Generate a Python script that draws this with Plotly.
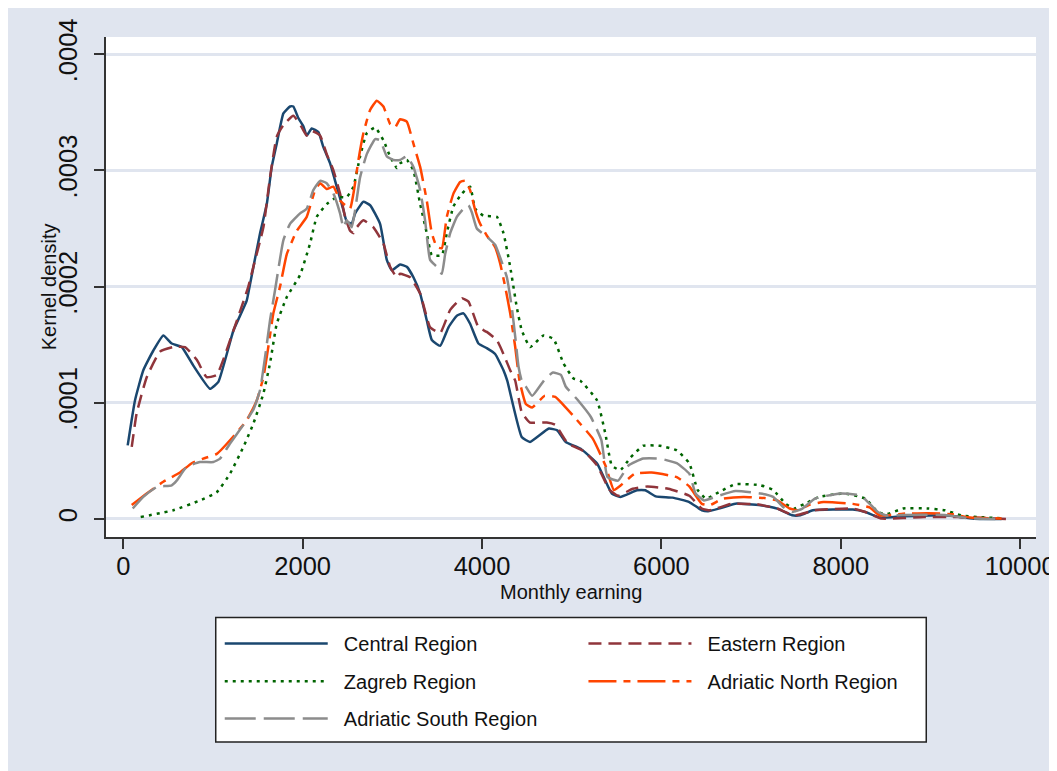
import plotly.graph_objects as go
import numpy as np

# Kernel density estimates (density values in units of 1e-4)
x_central = [49,130,223,335,446,540,651,781,967,1060,1227,1376,1413,1525,1600,1655,1711,1785,1859,1896,1952,2008,2045,2101,2175,2231,2306,2380,2454,2491,2547,2585,2677,2752,2863,2938,2994,3086,3161,3235,3310,3384,3440,3533,3626,3719,3793,3867,3960,4053,4146,4239,4281,4442,4535,4745,4839,4933,5096,5283,5447,5541,5727,5820,5937,6124,6311,6451,6521,6638,6826,7106,7292,7456,7549,7690,8134,8274,8437,8694,9161,9488,9793]
y_central = [0.634,1.02,1.28,1.45,1.58,1.51,1.48,1.32,1.12,1.18,1.62,1.88,2.02,2.46,2.71,3.03,3.23,3.49,3.55,3.55,3.45,3.38,3.30,3.36,3.33,3.20,3.06,2.86,2.66,2.56,2.54,2.63,2.73,2.70,2.54,2.23,2.14,2.19,2.17,2.08,1.94,1.71,1.54,1.49,1.65,1.75,1.77,1.68,1.51,1.47,1.42,1.28,1.19,0.706,0.663,0.778,0.763,0.663,0.606,0.477,0.219,0.189,0.247,0.247,0.195,0.184,0.146,0.075,0.066,0.089,0.132,0.118,0.089,0.032,0.032,0.075,0.081,0.06,0.012,0.023,0.032,0.003,0.0]

x_eastern = [94,149,261,409,558,688,819,930,1042,1227,1394,1450,1562,1636,1711,1785,1896,1990,2045,2101,2194,2268,2343,2417,2473,2529,2566,2603,2677,2789,2900,2975,3050,3086,3198,3310,3421,3533,3645,3775,3849,3960,4053,4165,4239,4314,4370,4442,4535,4722,4816,4956,5142,5283,5423,5517,5681,5844,6077,6311,6451,6544,6779,7059,7292,7479,7713,8134,8274,8461,8928,9300,9851]
y_eastern = [0.62,0.91,1.22,1.44,1.48,1.48,1.37,1.22,1.24,1.62,2.0,2.17,2.51,2.94,3.29,3.39,3.47,3.37,3.30,3.34,3.30,3.14,3.0,2.80,2.60,2.48,2.46,2.51,2.57,2.51,2.37,2.17,2.08,2.11,2.08,1.94,1.65,1.60,1.80,1.90,1.87,1.65,1.61,1.54,1.42,1.28,1.19,0.92,0.83,0.83,0.81,0.65,0.58,0.46,0.25,0.20,0.26,0.28,0.26,0.20,0.09,0.075,0.13,0.127,0.09,0.03,0.075,0.09,0.06,0.003,0.017,0.017,0.0]

x_zagreb = [194,558,855,1042,1190,1339,1450,1562,1636,1711,1823,1971,2082,2157,2268,2380,2491,2566,2640,2715,2808,2900,2975,3050,3086,3161,3235,3310,3384,3440,3552,3607,3681,3775,3867,3923,4016,4165,4239,4314,4388,4444,4537,4685,4797,4908,5020,5096,5283,5376,5447,5541,5657,5797,5983,6171,6311,6404,6498,6638,6826,7106,7246,7386,7479,7596,7760,8040,8274,8414,8508,8694,8975,9161,9349,9536,9816]
y_zagreb = [0.017,0.075,0.16,0.23,0.39,0.62,0.82,1.08,1.34,1.68,1.91,2.10,2.37,2.60,2.71,2.77,2.77,2.86,3.12,3.32,3.37,3.26,3.12,3.02,3.06,3.09,3.0,2.71,2.46,2.27,2.27,2.46,2.69,2.80,2.86,2.67,2.61,2.60,2.46,2.17,1.82,1.62,1.48,1.58,1.55,1.34,1.21,1.19,1.02,0.73,0.46,0.42,0.53,0.63,0.63,0.59,0.48,0.25,0.175,0.23,0.30,0.29,0.25,0.13,0.09,0.13,0.19,0.22,0.175,0.06,0.04,0.09,0.09,0.075,0.03,0.017,0.005]

x_adr_north = [94,261,446,632,763,892,1042,1227,1376,1488,1562,1617,1673,1748,1823,1934,2045,2138,2194,2268,2343,2417,2491,2529,2566,2622,2677,2752,2826,2900,2975,3031,3086,3161,3235,3310,3384,3440,3496,3552,3607,3681,3756,3811,3867,3923,3979,4053,4146,4202,4258,4314,4370,4418,4488,4559,4698,4816,4909,5049,5236,5376,5470,5563,5703,5891,6171,6311,6451,6544,6685,6918,7152,7292,7432,7526,7643,7806,8134,8321,8437,8694,8975,9255,9442,9793]
y_adr_north = [0.12,0.22,0.32,0.40,0.48,0.52,0.56,0.71,0.85,1.02,1.22,1.48,1.77,2.0,2.28,2.48,2.60,2.83,2.89,2.84,2.86,2.74,2.69,2.67,2.80,3.09,3.32,3.52,3.60,3.55,3.40,3.37,3.44,3.42,3.23,3.03,2.74,2.46,2.34,2.33,2.60,2.80,2.90,2.91,2.83,2.66,2.54,2.44,2.34,2.20,2.0,1.77,1.48,1.19,0.99,0.96,1.06,1.05,0.98,0.86,0.69,0.46,0.25,0.30,0.39,0.40,0.36,0.28,0.13,0.12,0.175,0.19,0.18,0.16,0.09,0.075,0.12,0.146,0.13,0.10,0.03,0.046,0.05,0.04,0.012,0.005]

x_adr_south = [105,223,372,540,595,707,855,1004,1079,1190,1339,1450,1525,1580,1636,1692,1785,1859,1971,2045,2119,2194,2268,2343,2417,2454,2491,2547,2585,2640,2715,2808,2863,2938,3012,3086,3161,3235,3310,3365,3421,3496,3552,3589,3645,3719,3793,3849,3886,3942,4053,4146,4202,4277,4332,4370,4407,4442,4488,4559,4698,4790,4880,4933,5072,5212,5330,5400,5517,5633,5797,5983,6171,6311,6381,6474,6638,6826,7106,7246,7362,7456,7573,7713,7993,8227,8414,8508,8694,9161,9442,9723]
y_adr_south = [0.09,0.19,0.275,0.29,0.33,0.45,0.49,0.49,0.52,0.65,0.81,0.94,1.11,1.39,1.71,1.97,2.40,2.54,2.63,2.67,2.83,2.91,2.89,2.80,2.63,2.51,2.57,2.51,2.66,2.94,3.14,3.27,3.26,3.12,3.09,3.09,3.12,3.03,2.83,2.57,2.23,2.17,2.11,2.28,2.46,2.60,2.67,2.70,2.64,2.50,2.43,2.36,2.25,2.08,1.82,1.57,1.31,1.19,1.14,1.06,1.20,1.26,1.24,1.14,1.02,0.88,0.68,0.36,0.33,0.46,0.52,0.52,0.48,0.39,0.22,0.16,0.20,0.24,0.22,0.19,0.10,0.06,0.09,0.175,0.22,0.20,0.06,0.03,0.035,0.035,0.005,0.0]

region_names = ["Central Region", "Eastern Region", "Zagreb Region",
                "Adriatic North Region", "Adriatic South Region"]
x_ticks = [0, 2000, 4000, 6000, 8000, 10000]
y_ticks = [0, 0.0001, 0.0002, 0.0003, 0.0004]
y_ticklabels = ["0", ".0001", ".0002", ".0003", ".0004"]
UNIT = 1e-4

# The page body adds an 8px margin, which also gives the thin white border.
OFF = 8
W, H = 1057 - OFF, 771 - OFF
# plot-area edges, in reference-picture pixels
RL, RR, RT, RB = 106, 1035.7, 36.7, 536.7
L, R, T, B = RL - OFF, RR - OFF, RT - OFF, RB - OFF
def px(ref_x):
    return (ref_x - RL) / (RR - RL)
def py(ref_y):
    return (RB - ref_y) / (RB - RT)

FONT = "Liberation Sans, Arial, sans-serif"
BG = "#E0E5EF"

styles = [
    dict(color="#1A476F", dash="solid", legend="legend"),
    dict(color="#90353B", dash="13px,7px", legend="legend2"),
    dict(color="#006400", dash="3px,5px", legend="legend3"),
    dict(color="#FF4500", dash="28px,7px,7px,7px", legend="legend4"),
    dict(color="#8C8C8C", dash="31px,8px", legend="legend5"),
]
data = [(x_central, y_central), (x_eastern, y_eastern), (x_zagreb, y_zagreb),
        (x_adr_north, y_adr_north), (x_adr_south, y_adr_south)]

fig = go.Figure()
for name, (xs, ys), st in zip(region_names, data, styles):
    fig.add_trace(go.Scatter(
        x=xs, y=np.array(ys) * UNIT, mode="lines",
        name="\u00a0\u00a0" + name,
        line=dict(color=st["color"], dash=st["dash"], width=2.5, shape="spline", smoothing=0.4),
        legend=st["legend"],
    ))

leg_common = dict(xanchor="left", yanchor="middle", bgcolor="rgba(0,0,0,0)",
                  borderwidth=0, itemwidth=103,
                  font=dict(family=FONT, size=20, color="#111111"))
col_x = [px(219.7), px(583.3)]
row_y = [py(643.3), py(681.0), py(718.3)]
legend_pos = [(0, 0), (1, 0), (0, 1), (1, 1), (0, 2)]
legends = {}
for i, (c, r) in enumerate(legend_pos):
    key = "legend" if i == 0 else f"legend{i+1}"
    legends[key] = dict(leg_common, x=col_x[c], y=row_y[r])

shapes = [
    # legend box
    dict(type="rect", xref="paper", yref="paper", x0=px(215.7), x1=px(926), y0=py(741.7), y1=py(617.3),
         fillcolor="white", line=dict(width=1.5, color="#222222"), layer="below"),
]

fig.update_layout(
    width=W, height=H,
    margin=dict(l=L, r=W - R, t=T, b=H - B, autoexpand=False),
    paper_bgcolor=BG, plot_bgcolor="white",
    font=dict(family=FONT, color="#111111"),
    showlegend=True,
    shapes=shapes,
    annotations=[
        dict(text="Monthly earning", xref="paper", yref="paper", x=0.5, y=py(591.7),
             xanchor="center", yanchor="middle", showarrow=False,
             font=dict(family=FONT, size=20, color="#111111")),
        dict(text="Kernel density", xref="paper", yref="paper", x=px(49.3), y=0.5,
             xanchor="center", yanchor="middle", showarrow=False, textangle=-90,
             font=dict(family=FONT, size=20, color="#111111")),
    ],
    xaxis=dict(range=[-193, 10177], tickvals=x_ticks, ticktext=[str(v) for v in x_ticks],
               ticks="outside", ticklen=10, tickwidth=1.5, tickcolor="#333333",
               showline=True, linecolor="#333333", linewidth=1.5,
               showgrid=False, zeroline=False, ticklabelstandoff=-4,
               tickfont=dict(family=FONT, size=25.5, color="#111111")),
    yaxis=dict(range=[-0.0000155, 0.0004148], tickvals=y_ticks, ticktext=y_ticklabels,
               tickangle=-90, ticks="outside", ticklen=10, tickwidth=1.5, tickcolor="#333333",
               showline=True, linecolor="#333333", linewidth=1.5,
               showgrid=True, gridcolor=BG, gridwidth=2.5, zeroline=False,
               ticklabelstandoff=7,
               tickfont=dict(family=FONT, size=25.5, color="#111111")),
    **legends,
)

fig.write_html("out.html")
